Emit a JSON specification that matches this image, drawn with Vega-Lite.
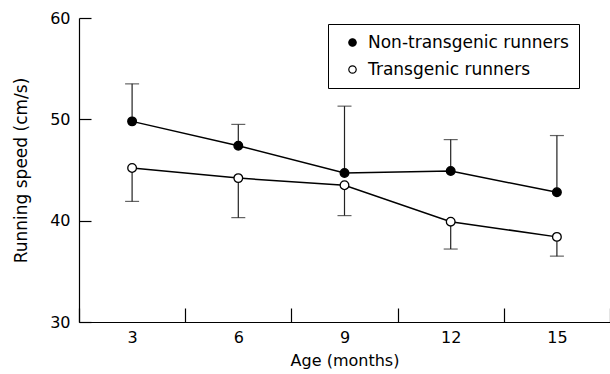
{
  "$schema": "https://vega.github.io/schema/vega-lite/v6.json",
  "autosize": "none",
  "width": 531,
  "height": 304,
  "padding": {"left": 79, "top": 18, "right": 0, "bottom": 52},
  "background": "white",
  "config": {
    "view": {"stroke": null},
    "font": "DejaVu Sans",
    "axis": {"domainColor": "black", "tickColor": "black", "labelColor": "black", "titleColor": "black", "grid": false, "labelFontSize": 16, "titleFontSize": 16, "titleFontWeight": "normal", "domainWidth": 1.2, "tickWidth": 1.2}
  },
  "data": {"values": [
    {"age": "3", "group": "Non-transgenic runners", "mean": 49.8, "bar": 53.5},
    {"age": "6", "group": "Non-transgenic runners", "mean": 47.4, "bar": 49.5},
    {"age": "9", "group": "Non-transgenic runners", "mean": 44.7, "bar": 51.3},
    {"age": "12", "group": "Non-transgenic runners", "mean": 44.9, "bar": 48.0},
    {"age": "15", "group": "Non-transgenic runners", "mean": 42.8, "bar": 48.4},
    {"age": "3", "group": "Transgenic runners", "mean": 45.2, "bar": 41.9},
    {"age": "6", "group": "Transgenic runners", "mean": 44.2, "bar": 40.3},
    {"age": "9", "group": "Transgenic runners", "mean": 43.5, "bar": 40.5},
    {"age": "12", "group": "Transgenic runners", "mean": 39.9, "bar": 37.2},
    {"age": "15", "group": "Transgenic runners", "mean": 38.4, "bar": 36.5}
  ]},
  "encoding": {
    "x": {"field": "age", "type": "ordinal", "sort": null, "bandPosition": 0.5,
      "scale": {"type": "band", "paddingInner": 0, "paddingOuter": 0},
      "axis": {"title": "Age (months)", "labelAngle": 0, "tickBand": "extent", "tickSize": -14, "labelPadding": 21, "titlePadding": 7}},
    "y": {"field": "mean", "type": "quantitative",
      "scale": {"domain": [30, 60], "nice": false, "zero": false},
      "axis": {"title": "Running speed (cm/s)", "titleFontSize": 17, "values": [30, 40, 50, 60], "tickSize": -12, "labelPadding": 21, "titlePadding": 19}}
  },
  "layer": [
    {"mark": {"type": "rule", "color": "#222", "strokeWidth": 1.2},
     "encoding": {"y2": {"field": "bar"}}},
    {"mark": {"type": "tick", "orient": "horizontal", "color": "#222", "size": 14, "thickness": 1.2},
     "encoding": {"y": {"field": "bar", "type": "quantitative"}}},
    {"mark": {"type": "line", "color": "black", "strokeWidth": 1.5},
     "encoding": {"detail": {"field": "group"}}},
    {"mark": {"type": "point", "shape": "circle", "filled": true, "size": 75, "stroke": "black", "strokeWidth": 1.3, "opacity": 1},
     "encoding": {"fill": {"field": "group", "type": "nominal",
       "scale": {"domain": ["Non-transgenic runners", "Transgenic runners"], "range": ["black", "white"]},
       "legend": {"title": null, "orient": "none", "legendX": 249, "legendY": 6, "strokeColor": "black", "padding": 10, "labelFontSize": 17, "labelLimit": 0, "labelColor": "black", "symbolType": "circle", "symbolSize": 55, "symbolStrokeColor": "black", "symbolStrokeWidth": 1.2, "rowPadding": 9, "labelOffset": 7, "symbolOffset": 6}}}}
  ]
}
